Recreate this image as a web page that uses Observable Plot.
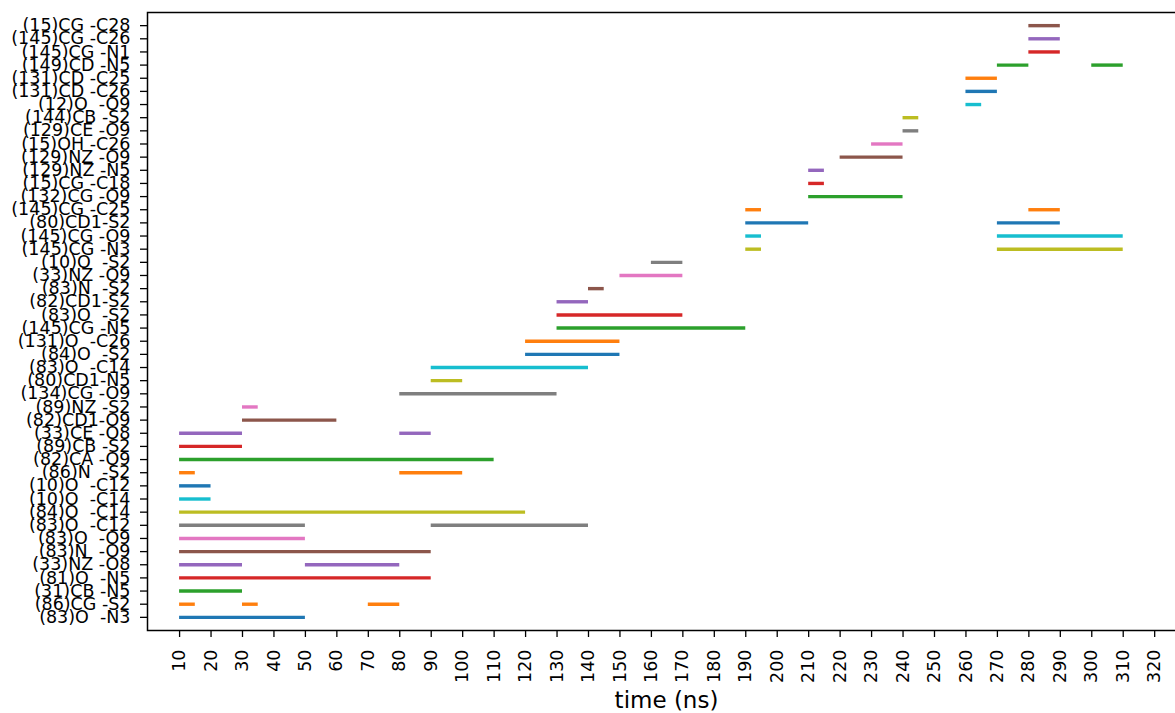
<!DOCTYPE html>
<html>
<head>
<meta charset="utf-8">
<script src="https://cdn.jsdelivr.net/npm/d3@7"></script>
<script src="https://cdn.jsdelivr.net/npm/@observablehq/plot@0.6"></script>
<style>
  html, body { margin: 0; padding: 0; background: #fff; overflow: hidden; }
  #chart svg { overflow: hidden; display: block; }
  #chart svg text { white-space: pre; }
</style>
</head>
<body>
<div id="chart"></div>
<script>
// Rows, top to bottom
const rows = [
  "(15)CG -C28", "(145)CG -C26", "(145)CG -N1", "(149)CD -N5", "(131)CD -C25",
  "(131)CD -C26", "(12)O  -O9", "(144)CB -S2", "(129)CE -O9", "(15)OH -C26",
  "(129)NZ -O9", "(129)NZ -N5", "(15)CG -C18", "(132)CG -O9", "(145)CG -C25",
  "(80)CD1-S2", "(145)CG -O9", "(145)CG -N3", "(10)O  -S2", "(33)NZ -O9",
  "(83)N  -S2", "(82)CD1-S2", "(83)O  -S2", "(145)CG -N5", "(131)O  -C26",
  "(84)O  -S2", "(83)O  -C14", "(80)CD1-N5", "(134)CG -O9", "(89)NZ -S2",
  "(82)CD1-O9", "(33)CE -O8", "(89)CB -S2", "(82)CA -O9", "(86)N  -S2",
  "(10)O  -C12", "(10)O  -C14", "(84)O  -C14", "(83)O  -C12", "(83)O  -O9",
  "(83)N  -O9", "(33)NZ -O8", "(81)O  -N5", "(31)CB -N5", "(86)CG -S2",
  "(83)O  -N3"
];

// Segments: row label, start (ns), end (ns)
const segRow = [
  "(83)O  -N3",
  "(86)CG -S2", "(86)CG -S2", "(86)CG -S2",
  "(31)CB -N5",
  "(81)O  -N5",
  "(33)NZ -O8", "(33)NZ -O8",
  "(83)N  -O9",
  "(83)O  -O9",
  "(83)O  -C12", "(83)O  -C12",
  "(84)O  -C14",
  "(10)O  -C14",
  "(10)O  -C12",
  "(86)N  -S2", "(86)N  -S2",
  "(82)CA -O9",
  "(89)CB -S2",
  "(33)CE -O8", "(33)CE -O8",
  "(82)CD1-O9",
  "(89)NZ -S2",
  "(134)CG -O9",
  "(80)CD1-N5",
  "(83)O  -C14",
  "(84)O  -S2",
  "(131)O  -C26",
  "(145)CG -N5",
  "(83)O  -S2",
  "(82)CD1-S2",
  "(83)N  -S2",
  "(33)NZ -O9",
  "(10)O  -S2",
  "(145)CG -N3", "(145)CG -N3",
  "(145)CG -O9", "(145)CG -O9",
  "(80)CD1-S2", "(80)CD1-S2",
  "(145)CG -C25", "(145)CG -C25",
  "(132)CG -O9",
  "(15)CG -C18",
  "(129)NZ -N5",
  "(129)NZ -O9",
  "(15)OH -C26",
  "(129)CE -O9",
  "(144)CB -S2",
  "(12)O  -O9",
  "(131)CD -C26",
  "(131)CD -C25",
  "(149)CD -N5", "(149)CD -N5",
  "(145)CG -N1",
  "(145)CG -C26",
  "(15)CG -C28"
];
const segStart = [
  10,
  10, 30, 70,
  10,
  10,
  10, 50,
  10,
  10,
  10, 90,
  10,
  10,
  10,
  10, 80,
  10,
  10,
  10, 80,
  30,
  30,
  80,
  90,
  90,
  120,
  120,
  130,
  130,
  130,
  140,
  150,
  160,
  190, 270,
  190, 270,
  190, 270,
  190, 280,
  210,
  210,
  210,
  220,
  230,
  240,
  240,
  260,
  260,
  260,
  270, 300,
  280,
  280,
  280
];
const segEnd = [
  50,
  15, 35, 80,
  30,
  90,
  30, 80,
  90,
  50,
  50, 140,
  120,
  20,
  20,
  15, 100,
  110,
  30,
  30, 90,
  60,
  35,
  130,
  100,
  140,
  150,
  150,
  190,
  170,
  140,
  145,
  170,
  170,
  195, 310,
  195, 310,
  210, 290,
  195, 290,
  240,
  215,
  215,
  240,
  240,
  245,
  245,
  265,
  270,
  270,
  280, 310,
  290,
  290,
  290
];

const xTicks = d3.range(10, 321, 10);
const xLabel = "time (ns)";

// matplotlib tab10 cycle, assigned by row from the bottom
const tab10 = ["#1f77b4", "#ff7f0e", "#2ca02c", "#d62728", "#9467bd",
               "#8c564b", "#e377c2", "#7f7f7f", "#bcbd22", "#17becf"];

const segments = segRow.map((r, i) => ({row: r, start: segStart[i], end: segEnd[i]}));
const colorOf = r => tab10[(rows.length - 1 - rows.indexOf(r)) % 10];

const chart = Plot.plot({
  width: 1175,
  height: 713,
  marginLeft: 147,
  marginTop: 12,
  marginBottom: 83,
  marginRight: -10,
  style: {fontFamily: "DejaVu Sans, sans-serif", color: "black", background: "white"},
  x: {domain: [-0.2, 329.8]},
  y: {type: "point", domain: rows, padding: 1, round: false},
  color: {type: "identity"},
  marks: [
    Plot.ruleY(segments, {
      y: "row", x1: "start", x2: "end",
      stroke: d => colorOf(d.row),
      strokeWidth: 3.4,
      strokeLinecap: "butt"
    }),
    Plot.axisY({tickSize: 7, tickPadding: 10, fontSize: 17.5, label: null, strokeWidth: 1.3}),
    Plot.axisX({ticks: xTicks, tickFormat: d => String(d), tickRotate: -90, tickSize: 7, tickPadding: 12, fontSize: 17.5, label: null, strokeWidth: 1.3}),
    Plot.text([xLabel], {frameAnchor: "bottom", dy: 77, fontSize: 23, text: d => d}),
    Plot.frame({stroke: "black", strokeWidth: 1.5})
  ]
});
document.getElementById("chart").appendChild(chart);
</script>
</body>
</html>
